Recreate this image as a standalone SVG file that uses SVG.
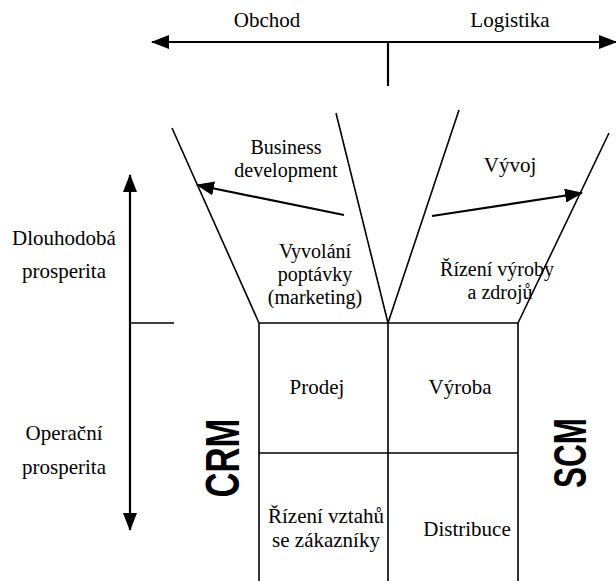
<svg xmlns="http://www.w3.org/2000/svg" width="616" height="581" viewBox="0 0 616 581">
<style>
.t{font-family:"Liberation Serif","Times New Roman",Times,serif;font-size:21px;fill:#000;text-anchor:middle}
.s{font-size:20px}
.b{font-family:"Liberation Sans Narrow","Liberation Sans",Arial,sans-serif;font-weight:bold;fill:#000;text-anchor:middle}
.ln{stroke:#000;stroke-width:1.6;fill:none}
.ar{stroke:#000;stroke-width:2.2;fill:none}
</style>
<defs>
<marker id="ah" markerUnits="userSpaceOnUse" markerWidth="18" markerHeight="14" refX="17" refY="7" orient="auto-start-reverse" viewBox="0 0 18 14">
<path d="M0,0 L18,7 L0,14 z" fill="#000"/>
</marker>
</defs>
<rect width="616" height="581" fill="#fff"/>
<g id="connectors">
<line class="ar" x1="152" y1="42" x2="616" y2="42" marker-start="url(#ah)" marker-end="url(#ah)"/>
<line class="ar" x1="388" y1="42" x2="388" y2="86"/>
<line class="ar" x1="130" y1="175" x2="130" y2="530" marker-start="url(#ah)" marker-end="url(#ah)"/>
<line class="ln" x1="130" y1="323" x2="174" y2="323"/>
<line class="ar" x1="344" y1="215" x2="197" y2="185" marker-end="url(#ah)"/>
<line class="ar" x1="432" y1="216" x2="582" y2="193" marker-end="url(#ah)"/>
</g>
<g id="funnel">
<line class="ln" x1="172" y1="128" x2="259" y2="323"/>
<line class="ln" x1="336" y1="113" x2="388" y2="323"/>
<line class="ln" x1="459" y1="110" x2="388" y2="323"/>
<line class="ln" x1="609" y1="133" x2="518" y2="323"/>
</g>
<g id="grid">
<line class="ln" x1="259" y1="323" x2="518" y2="323"/>
<line class="ln" x1="259" y1="323" x2="259" y2="581"/>
<line class="ln" x1="388" y1="323" x2="388" y2="581"/>
<line class="ln" x1="518" y1="323" x2="518" y2="581"/>
<line class="ln" x1="259" y1="453" x2="518" y2="453"/>
</g>
<g id="axis-labels">
<text class="t" x="267" y="27">Obchod</text>
<text class="t" x="510" y="27">Logistika</text>
<text class="t" x="64" y="245">Dlouhodobá</text>
<text class="t" x="64" y="278">prosperita</text>
<text class="t" x="64" y="440">Operační</text>
<text class="t" x="64" y="474">prosperita</text>
</g>
<g id="business-development">
<text class="t s" x="286" y="154">Business</text>
<text class="t s" x="286" y="177">development</text>
</g>
<g id="vyvoj"><text class="t" x="510" y="172">Vývoj</text></g>
<g id="vyvolani">
<text class="t s" x="315" y="258">Vyvolání</text>
<text class="t s" x="315" y="281">poptávky</text>
<text class="t s" x="315" y="304">(marketing)</text>
</g>
<g id="rizeni-vyroby">
<text class="t s" x="497" y="276">Řízení výroby</text>
<text class="t s" x="500" y="299">a zdrojů</text>
</g>
<g id="prodej"><text class="t" x="317" y="394">Prodej</text></g>
<g id="vyroba"><text class="t" x="460" y="394">Výroba</text></g>
<g id="rizeni-vztahu">
<text class="t" x="326" y="523">Řízení vztahů</text>
<text class="t" x="326" y="547">se zákazníky</text>
</g>
<g id="distribuce"><text class="t" x="467" y="536">Distribuce</text></g>
<g id="crm"><text class="b" transform="translate(239,458) rotate(-90)" font-size="48" textLength="79" lengthAdjust="spacingAndGlyphs">CRM</text></g>
<g id="scm"><text class="b" transform="translate(586,453) rotate(-90)" font-size="46" textLength="70" lengthAdjust="spacingAndGlyphs">SCM</text></g>
</svg>
